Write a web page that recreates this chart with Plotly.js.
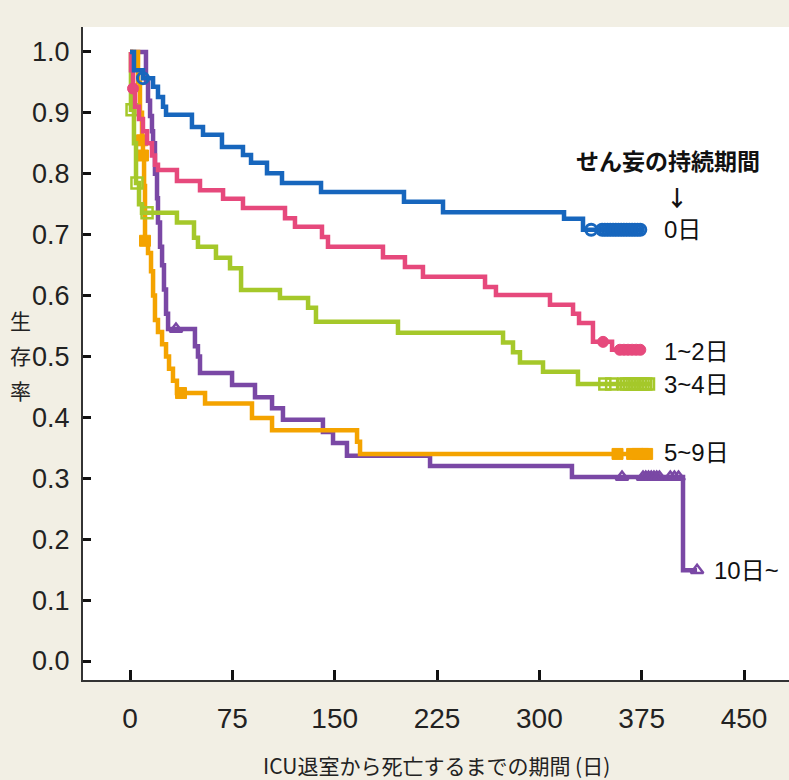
<!DOCTYPE html>
<html><head><meta charset="utf-8">
<script src="https://cdn.plot.ly/plotly-3.0.1.min.js"></script>
<style>html,body{margin:0;padding:0;background:#f2efe4;}</style>
</head><body><div id="chart" style="width:789px;height:780px;"></div>
<script>
const xTickVals = [0, 75, 150, 225, 300, 375, 450];
const yTickVals = [0, 0.1, 0.2, 0.3, 0.4, 0.5, 0.6, 0.7, 0.8, 0.9, 1.0];
const yTickText = ['0.0','0.1','0.2','0.3','0.4','0.5','0.6','0.7','0.8','0.9','1.0'];

const groupNames = ['0日', '1~2日', '3~4日', '5~9日', '10日~'];
const yTitleChars = ['生', '存', '率'];

// 0日 (blue)
const blueDays = [0, 2.9, 9.5, 16.9, 20.5, 24.2, 26.4, 45.4, 53.5, 67.4, 82.8, 88.7, 100.4, 111.4, 140.0, 200.8, 229.4, 318.1, 332.0, 376.0];
const blueSurv = [1.0, 0.97, 0.957, 0.943, 0.926, 0.910, 0.897, 0.877, 0.864, 0.844, 0.831, 0.818, 0.801, 0.785, 0.770, 0.754, 0.737, 0.726, 0.708, 0.708];
const blueCensDays = [9.5, 338, 346, 348, 350, 352, 354, 356, 358, 360, 362, 364, 366, 368, 370, 372, 374];
const blueCensSurv = [0.957, 0.708, 0.708, 0.708, 0.708, 0.708, 0.708, 0.708, 0.708, 0.708, 0.708, 0.708, 0.708, 0.708, 0.708, 0.708, 0.708];

// 1~2日 (pink)
const pinkDays = [0, 0.7, 2.2, 3.7, 6.6, 9.5, 12.5, 16.1, 18.3, 20.5, 34.4, 51.3, 68.2, 82.8, 113.6, 120.9, 140.7, 145.1, 185.4, 201.5, 214.7, 260.2, 268.2, 307.8, 324.7, 329.1, 339.3, 353.3, 375.2];
const pinkSurv = [1.0, 0.97, 0.94, 0.91, 0.89, 0.87, 0.85, 0.83, 0.815, 0.806, 0.788, 0.773, 0.759, 0.744, 0.727, 0.713, 0.696, 0.680, 0.663, 0.647, 0.631, 0.614, 0.601, 0.585, 0.570, 0.555, 0.524, 0.511, 0.511];
const pinkCensDays = [2.2, 346.7, 359, 362, 365, 368, 371, 374];
const pinkCensSurv = [0.94, 0.524, 0.511, 0.511, 0.511, 0.511, 0.511, 0.511];

// 3~4日 (green)
const greenDays = [0, 0.7, 2.9, 4.4, 6.6, 8.8, 34.4, 46.9, 49.8, 63.0, 73.3, 81.4, 109.9, 130.5, 136.3, 196.4, 273.4, 280.7, 285.8, 302.7, 328.3, 381.1];
const greenSurv = [1.0, 0.905, 0.85, 0.785, 0.75, 0.736, 0.72, 0.695, 0.68, 0.662, 0.645, 0.609, 0.596, 0.58, 0.557, 0.539, 0.523, 0.507, 0.49, 0.475, 0.455, 0.455];
const greenCensDays = [1.5, 5.1, 12.5, 348, 353, 362, 364, 366, 368, 370, 372, 374, 376, 378, 380];
const greenCensSurv = [0.905, 0.785, 0.736, 0.455, 0.455, 0.455, 0.455, 0.455, 0.455, 0.455, 0.455, 0.455, 0.455, 0.455, 0.455];

// 5~9日 (orange)
const orangeDays = [0, 5.9, 7.3, 8.8, 9.5, 10.3, 11.0, 13.2, 15.4, 16.9, 18.3, 20.5, 23.5, 26.4, 28.6, 31.5, 34.4, 55.0, 89.4, 104.1, 166.4, 168.6, 379.6];
const orangeSurv = [1.0, 0.95, 0.90, 0.855, 0.83, 0.78, 0.69, 0.67, 0.64, 0.60, 0.56, 0.54, 0.52, 0.50, 0.48, 0.46, 0.44, 0.423, 0.399, 0.379, 0.36, 0.34, 0.34];
const orangeCensDays = [8.8, 9.5, 11.0, 37.4, 357.3, 368, 372, 376, 379];
const orangeCensSurv = [0.855, 0.83, 0.69, 0.44, 0.34, 0.34, 0.34, 0.34, 0.34];

// 10日~ (purple)
const purpleDays = [0, 11.7, 13.2, 14.7, 16.1, 16.9, 18.3, 19.8, 20.5, 22.0, 23.5, 24.9, 26.4, 27.9, 47.6, 49.8, 51.3, 74.8, 91.6, 104.1, 112.1, 141.4, 148.8, 159.0, 219.9, 323.9, 405.3, 415.6];
const purpleSurv = [1.0, 0.95, 0.92, 0.895, 0.87, 0.85, 0.80, 0.76, 0.72, 0.68, 0.65, 0.61, 0.57, 0.545, 0.517, 0.50, 0.473, 0.453, 0.433, 0.415, 0.396, 0.376, 0.358, 0.337, 0.320, 0.302, 0.149, 0.149];
const purpleCensDays = [33.7, 360.6, 376, 378, 380, 382, 384, 386, 388, 396, 399, 402, 415.6];
const purpleCensSurv = [0.545, 0.302, 0.302, 0.302, 0.302, 0.302, 0.302, 0.302, 0.302, 0.302, 0.302, 0.302, 0.149];

const colors = {blue: '#1766bd', pink: '#e6497c', green: '#a5c82a', orange: '#f4a300', purple: '#7a48a5'};

function lineTrace(x, y, c, name) {
  return {x: x, y: y, type: 'scatter', mode: 'lines', name: name,
    line: {shape: 'hv', color: c, width: 4.5}, hoverinfo: 'skip'};
}
function markTrace(x, y, c, sym, size, lw) {
  return {x: x, y: y, type: 'scatter', mode: 'markers',
    marker: {symbol: sym, size: size, color: c, line: {color: c, width: lw}}, hoverinfo: 'skip'};
}

const data = [
  lineTrace(purpleDays, purpleSurv, colors.purple, groupNames[4]),
  markTrace(purpleCensDays, purpleCensSurv, colors.purple, 'triangle-up-open', 11, 2.5),
  lineTrace(orangeDays, orangeSurv, colors.orange, groupNames[3]),
  markTrace(orangeCensDays, orangeCensSurv, colors.orange, 'square', 11, 1),
  lineTrace(greenDays, greenSurv, colors.green, groupNames[2]),
  markTrace(greenCensDays, greenCensSurv, colors.green, 'square-open', 11, 2.5),
  lineTrace(pinkDays, pinkSurv, colors.pink, groupNames[1]),
  markTrace(pinkCensDays, pinkCensSurv, colors.pink, 'circle', 11, 1),
  lineTrace(blueDays, blueSurv, colors.blue, groupNames[0]),
  markTrace(blueCensDays, blueCensSurv, colors.blue, 'circle-open', 11, 3)
];

const sans = "'Liberation Sans', Arial, sans-serif";
const sansJP = "'Liberation Sans', 'Noto Sans CJK JP', sans-serif";
const jp = "'Noto Sans CJK JP', sans-serif";

const labelFont = {family: sansJP, size: 24, color: '#111'};
const annotations = [
  {xref: 'x', yref: 'y', x: 389.9, y: 0.708, text: groupNames[0], showarrow: false, xanchor: 'left', yanchor: 'middle', font: labelFont},
  {xref: 'x', yref: 'y', x: 389.9, y: 0.509, text: groupNames[1], showarrow: false, xanchor: 'left', yanchor: 'middle', font: labelFont},
  {xref: 'x', yref: 'y', x: 389.9, y: 0.454, text: groupNames[2], showarrow: false, xanchor: 'left', yanchor: 'middle', font: labelFont},
  {xref: 'x', yref: 'y', x: 389.9, y: 0.343, text: groupNames[3], showarrow: false, xanchor: 'left', yanchor: 'middle', font: labelFont},
  {xref: 'x', yref: 'y', x: 426.5, y: 0.149, text: groupNames[4], showarrow: false, xanchor: 'left', yanchor: 'middle', font: labelFont},
  {xref: 'x', yref: 'y', x: 394.3, y: 0.822, text: '<b>せん妄の持続期間</b>', showarrow: false, xanchor: 'center', yanchor: 'middle', font: {family: jp, size: 23, color: '#111'}},
  {xref: 'x', yref: 'y', x: 400.9, y: 0.7635, text: '<b>↓</b>', showarrow: false, xanchor: 'center', yanchor: 'middle', font: {family: jp, size: 22, color: '#111'}},
  {xref: 'paper', yref: 'paper', x: 0.5, y: -0.130, text: 'ICU退室から死亡するまでの期間 (日)', showarrow: false, xanchor: 'center', yanchor: 'middle', font: {family: jp, size: 21, color: '#222'}}
];
const yTitleY = [0.5513, 0.4977, 0.4441];
yTitleChars.forEach(function (ch, i) {
  annotations.push({xref: 'paper', yref: 'paper', x: -0.0885, y: yTitleY[i], text: ch, showarrow: false,
    xanchor: 'center', yanchor: 'middle', font: {family: jp, size: 21, color: '#222'}});
});

const layout = {
  width: 789, height: 780,
  margin: {l: 83, r: 0, t: 27, b: 100, pad: 0},
  paper_bgcolor: '#f2efe4',
  plot_bgcolor: '#ffffff',
  showlegend: false,
  xaxis: {
    range: [-34.45, 482.98], tickvals: xTickVals, ticks: 'inside', ticklen: 10, tickwidth: 3, tickcolor: '#111',
    showline: true, linecolor: '#333', linewidth: 2, showgrid: false, zeroline: false, mirror: false,
    tickfont: {family: sans, size: 28, color: '#222'}, ticklabelstandoff: 12
  },
  yaxis: {
    range: [-0.0312, 1.041], tickvals: yTickVals, ticktext: yTickText, ticks: 'inside', ticklen: 8, tickwidth: 3, tickcolor: '#111',
    showline: true, linecolor: '#333', linewidth: 2, showgrid: false, zeroline: false,
    tickfont: {family: sans, size: 27, color: '#222'}, ticklabelstandoff: 6
  },
  annotations: annotations
};

Plotly.newPlot('chart', data, layout, {staticPlot: true, displayModeBar: false});
</script>
</body></html>
